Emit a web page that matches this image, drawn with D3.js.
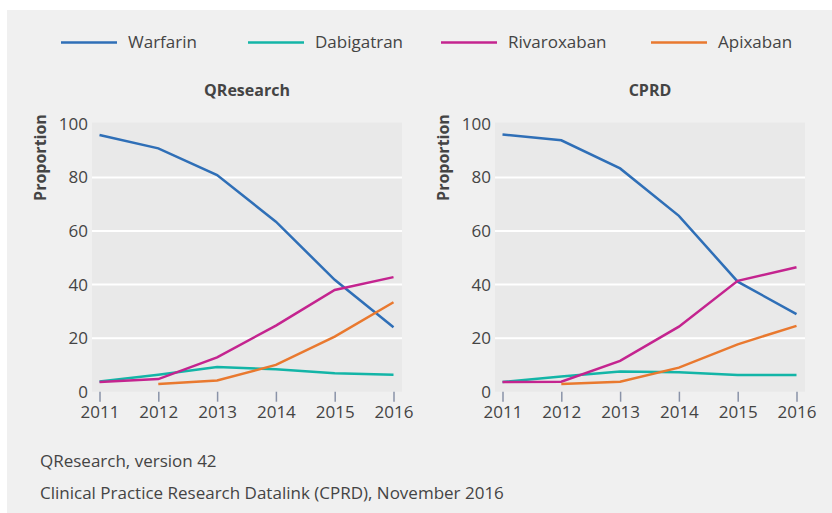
<!DOCTYPE html>
<html>
<head>
<meta charset="utf-8">
<script src="https://cdn.jsdelivr.net/npm/d3@7"></script>
<style>
  body { margin: 0; background: #fff; }
  text { font-family: "Open Sans", "Noto Sans", sans-serif; fill: #444; }
</style>
</head>
<body>
<svg id="chart"></svg>
<script>
const years = [2011, 2012, 2013, 2014, 2015, 2016]
const drugs = ['Warfarin', 'Dabigatran', 'Rivaroxaban', 'Apixaban']
const colors = ['#2f6fb7', '#13b5a7', '#c4248f', '#e9792f']
const yTicks = [0, 20, 40, 60, 80, 100]

// QResearch panel
const qWarfarin = [95.9, 90.9, 80.9, 63.5, 41.8, 24.1]
const qDabigatran = [3.8, 6.3, 9.2, 8.4, 6.9, 6.3]
const qRivaroxaban = [3.6, 4.7, 12.8, 24.7, 38.0, 42.8]
const qApixaban = [null, 2.9, 4.2, 10.0, 20.6, 33.4]

// CPRD panel
const cWarfarin = [96.1, 93.9, 83.4, 65.7, 41.1, 29.0]
const cDabigatran = [3.6, 5.7, 7.5, 7.3, 6.2, 6.2]
const cRivaroxaban = [3.6, 3.7, 11.5, 24.3, 41.4, 46.5]
const cApixaban = [null, 2.9, 3.7, 9.0, 17.7, 24.6]

const panels = [
  { title: 'QResearch', left: 92, series: [qWarfarin, qDabigatran, qRivaroxaban, qApixaban] },
  { title: 'CPRD', left: 495, series: [cWarfarin, cDabigatran, cRivaroxaban, cApixaban] }
]

const width = 832
const height = 513
const svg = d3.select('#chart').attr('width', width).attr('height', height)

svg.append('rect')
  .attr('x', 7).attr('y', 10)
  .attr('width', width - 7).attr('height', height - 10)
  .attr('fill', '#f0f0f0')

// legend
const legendX = [61, 248, 441, 651]
const legend = svg.selectAll('g.legend')
  .data(drugs)
  .enter()
  .append('g')
  .attr('transform', (d, i) => `translate(${legendX[i]}, 42.5)`)
legend.append('line')
  .attr('x1', 0).attr('x2', 56)
  .attr('stroke', (d, i) => colors[i])
  .attr('stroke-width', 2.5)
legend.append('text')
  .attr('x', 67).attr('dy', '0.35em')
  .style('font-size', '17px')
  .text(d => d)

const plotW = 310
const plotTop = 122.7
const plotBottom = 391.7

let y = d3.scaleLinear().domain([0, 100]).range([plotBottom, 124])

panels.forEach(p => {
  let g = svg.append('g')
  let x = d3.scaleLinear()
    .domain([2011, 2016])
    .range([p.left + 7.5, p.left + plotW - 8.5])

  g.append('rect')
    .attr('x', p.left).attr('y', plotTop)
    .attr('width', plotW).attr('height', plotBottom - plotTop)
    .attr('fill', '#e9e9e9')

  // gridlines
  g.selectAll('line.grid')
    .data(yTicks.filter(t => t > 0 && t < 100))
    .enter()
    .append('line')
    .attr('x1', p.left).attr('x2', p.left + plotW)
    .attr('y1', d => y(d)).attr('y2', d => y(d))
    .attr('stroke', '#fff')
    .attr('stroke-width', 2)

  // y axis
  let yAxis = d3.axisLeft(y).tickValues(yTicks).tickSize(0).tickPadding(4)
  let ya = g.append('g')
    .attr('transform', `translate(${p.left}, 0)`)
    .call(yAxis)
  ya.select('.domain').remove()
  ya.selectAll('text')
    .style('font-size', '17px')
    .style('font-family', '"Open Sans", sans-serif')
    .attr('fill', '#444')

  // x axis
  let xAxis = d3.axisBottom(x).tickValues(years).tickFormat(d3.format('d'))
    .tickSize(10).tickPadding(4)
  let xa = g.append('g')
    .attr('transform', `translate(0, ${plotBottom})`)
    .call(xAxis)
  xa.select('.domain').remove()
  xa.selectAll('line').attr('stroke', '#8a93a8').attr('stroke-width', 1.5)
  xa.selectAll('text')
    .style('font-size', '17px')
    .style('font-family', '"Open Sans", sans-serif')
    .attr('fill', '#444')

  // title
  g.append('text')
    .attr('x', p.left + plotW / 2).attr('y', 90.5)
    .attr('dy', '0.35em')
    .attr('text-anchor', 'middle')
    .style('font-size', '16px')
    .style('font-weight', 'bold')
    .text(p.title)

  g.append('text')
    .attr('transform', `translate(${p.left - 52}, 157.5) rotate(-90)`)
    .attr('dy', '0.35em')
    .attr('text-anchor', 'middle')
    .style('font-size', '16px')
    .style('font-weight', 'bold')
    .text('Proportion')

  // lines
  let line = d3.line()
    .defined(d => d[1] != null)
    .x(d => x(d[0]))
    .y(d => y(d[1]))

  g.selectAll('path.series')
    .data(p.series)
    .enter()
    .append('path')
    .attr('d', s => line(s.map((v, i) => [years[i], v])))
    .attr('fill', 'none')
    .attr('stroke', (d, i) => colors[i])
    .attr('stroke-width', 2.5)
})

svg.append('text')
  .attr('x', 40).attr('y', 461.5).attr('dy', '0.35em')
  .style('font-size', '17px')
  .text('QResearch, version 42')
svg.append('text')
  .attr('x', 40).attr('y', 493).attr('dy', '0.35em')
  .style('font-size', '17px')
  .text('Clinical Practice Research Datalink (CPRD), November 2016')
</script>
</body>
</html>
